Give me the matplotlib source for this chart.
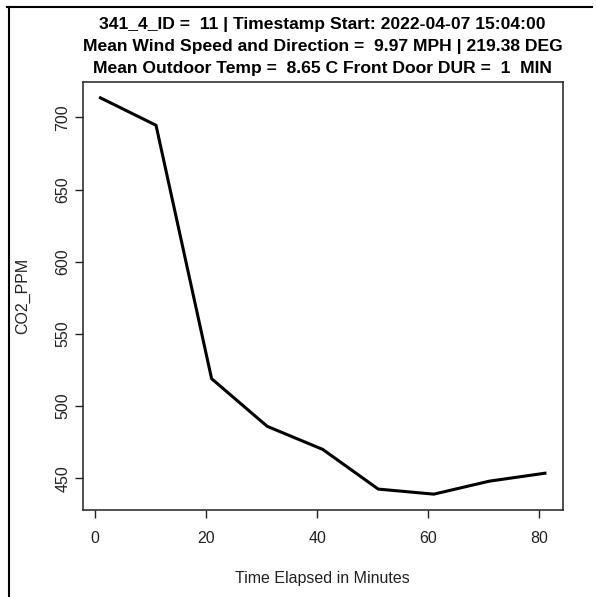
import matplotlib
matplotlib.use("Agg")
import matplotlib.pyplot as plt
from matplotlib.lines import Line2D

# data
minutes = [1, 11, 21, 31, 41, 51, 61, 71, 81]
co2_ppm = [713.5, 694.5, 519, 486, 470, 442.5, 439, 448, 453.5]
x_ticks = [0, 20, 40, 60, 80]
y_ticks = [450, 500, 550, 600, 650, 700]
title_lines = [
    "341_4_ID =  11 | Timestamp Start: 2022-04-07 15:04:00",
    "Mean Wind Speed and Direction =  9.97 MPH | 219.38 DEG",
    "Mean Outdoor Temp =  8.65 C Front Door DUR =  1  MIN",
]

W = H = 597
plt.rcParams['font.family'] = ['Liberation Sans', 'DejaVu Sans']

fig = plt.figure(figsize=(W / 100, H / 100), dpi=100)
fig.patch.set_facecolor('white')

# plot region in pixels (left, top, right, bottom)
L, T, R, B = 82.7, 82.0, 562.7, 510.0
ax = fig.add_axes([L / W, 1 - B / H, (R - L) / W, (B - T) / H])

ax.plot(minutes, co2_ppm, color='black', linewidth=2.2, solid_joinstyle='round')

# R style 4% padding
xr = max(minutes) - min(minutes)
yr = max(co2_ppm) - min(co2_ppm)
ax.set_xlim(min(minutes) - 0.04 * xr, max(minutes) + 0.04 * xr)
ax.set_ylim(min(co2_ppm) - 0.04 * yr, max(co2_ppm) + 0.04 * yr)

ax.set_xticks(x_ticks)
ax.set_yticks(y_ticks)
ax.set_xticklabels([str(v) for v in x_ticks])
ax.set_yticklabels([str(v) for v in y_ticks], rotation=90, va='center')
ax.tick_params(axis='both', direction='out', length=6, width=1.0,
               labelsize=11.5, colors='#222222')
ax.tick_params(axis='x', pad=9)
ax.tick_params(axis='y', pad=3)
for s in ax.spines.values():
    s.set_linewidth(1.1)
    s.set_color('#222222')

ax.set_xlabel("Time Elapsed in Minutes", fontsize=11.5, color='#222222', labelpad=18)
ax.set_ylabel("CO2_PPM", fontsize=11.5, color='#222222', labelpad=18)

# three bold title lines centred on the plot region
cx = (L + R) / 2 / W
for i, line in enumerate(title_lines):
    fig.text(cx, 1 - (25 + 22 * i) / H, line, ha='center', va='center',
             fontsize=12.6, fontweight='bold', color='black')

# screenshot frame (top and left edges)
fig.add_artist(Line2D([7 / W, 592 / W], [1 - 7 / H, 1 - 7 / H],
                      transform=fig.transFigure, color='black', linewidth=1.5))
fig.add_artist(Line2D([8.5 / W, 8.5 / W], [0, 1 - 7 / H],
                      transform=fig.transFigure, color='black', linewidth=1.5))

fig.savefig("out.png", dpi=100)
